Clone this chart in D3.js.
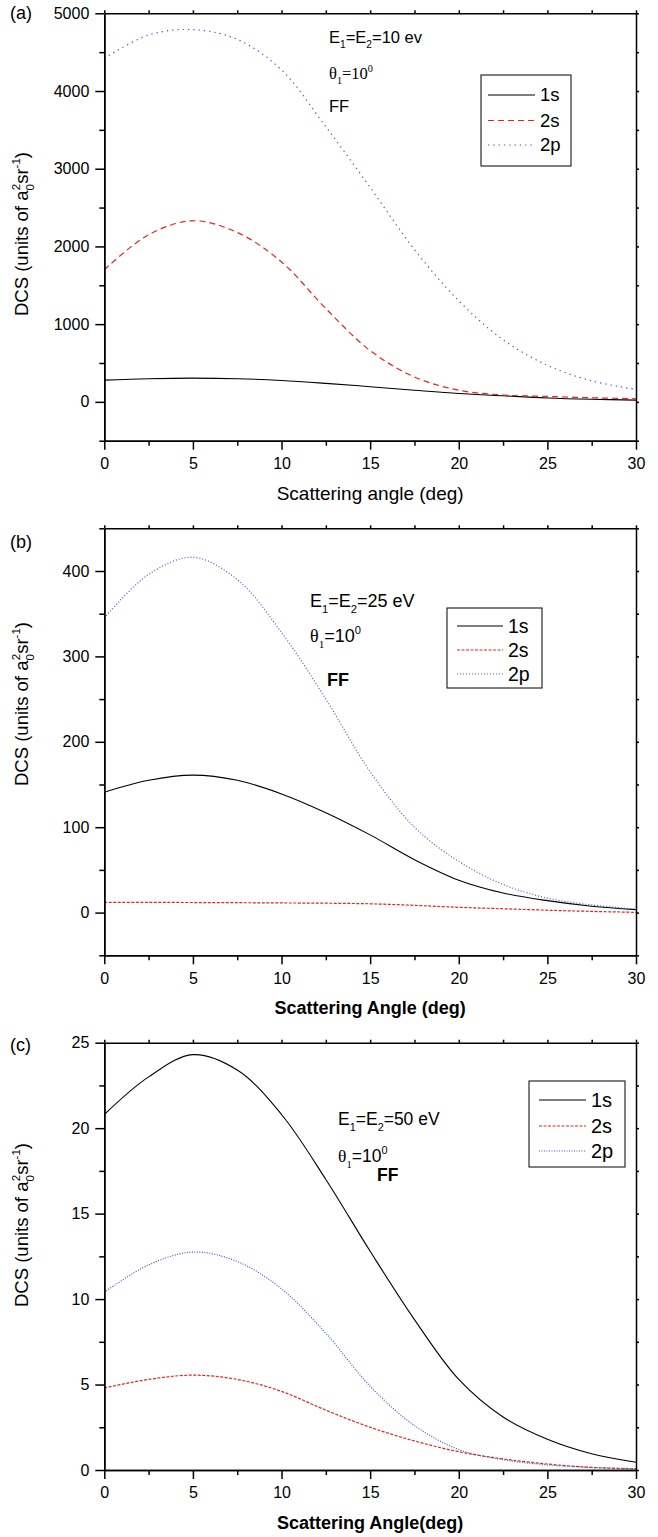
<!DOCTYPE html>
<html>
<head>
<meta charset="utf-8">
<script src="https://cdn.jsdelivr.net/npm/d3@7"></script>
<style>
  body { margin: 0; background: #fff; }
  svg { display: block; }
  text { font-family: "Liberation Sans", Arial, sans-serif; fill: #000; }
</style>
</head>
<body>
<svg id="chart" width="658" height="1537"></svg>
<script>
// Scattering angle grid (deg)
const angleDeg = [0, 2.5, 5, 7.5, 10, 12.5, 15, 17.5, 20, 22.5, 25, 27.5, 30];

// DCS for E1=E2=10 eV
const dcs10_1s = [280, 298, 305, 298, 275, 238, 195, 150, 108, 78, 50, 33, 22];
const dcs10_2s = [1700, 2150, 2330, 2180, 1800, 1200, 660, 320, 150, 88, 70, 52, 40];
const dcs10_2p = [4420, 4720, 4790, 4665, 4270, 3540, 2760, 1960, 1300, 800, 470, 270, 160];

// DCS for E1=E2=25 eV
const dcs25_1s = [141, 155, 161, 155, 139, 117, 91, 62, 38, 23, 14, 7.5, 3.5];
const dcs25_2s = [12, 12, 11.8, 11.6, 11.3, 11, 10.3, 8.5, 6.2, 4.5, 2.8, 1.4, 0.3];
const dcs25_2p = [345, 396, 416, 390, 328, 250, 165, 100, 60, 33, 17, 9, 4];

// DCS for E1=E2=50 eV
const dcs50_1s = [20.8, 23.0, 24.3, 23.4, 20.8, 17.0, 12.8, 8.8, 5.3, 3.1, 1.8, 0.95, 0.45];
const dcs50_2s = [4.8, 5.3, 5.55, 5.3, 4.6, 3.5, 2.5, 1.7, 1.07, 0.65, 0.35, 0.15, 0.06];
const dcs50_2p = [10.4, 12.0, 12.75, 12.2, 10.6, 8.0, 4.9, 2.6, 1.2, 0.6, 0.3, 0.15, 0.08];

const seriesNames = ["1s", "2s", "2p"];
const xMajorTicks = [0, 5, 10, 15, 20, 25, 30];
const xMinorTicks = [2.5, 7.5, 12.5, 17.5, 22.5, 27.5];
const yTicks10 = [0, 1000, 2000, 3000, 4000, 5000];
const yTicks25 = [0, 100, 200, 300, 400];
const yTicks50 = [0, 5, 10, 15, 20, 25];

const RED = "#ee2020", BLUE = "#3a5bd0";
const svg = d3.select("#chart");

// Rich text helper: parts with optional sub / sup, dx to stack over previous glyph
function richText(sel, parts, fs) {
  let shift = 0;
  parts.forEach(p => {
    const ts = sel.append("tspan").text(p.t);
    let target = 0, size = fs;
    if (p.sub) { target = fs * 0.32; size = fs * 0.62; }
    if (p.sup) { target = -fs * 0.45; size = fs * 0.62; }
    ts.attr("dy", target - shift).style("font-size", size + "px");
    if (p.dx) ts.attr("dx", p.dx);
    if (p.font) ts.style("font-family", p.font);
    shift = target;
  });
}

const panels = [
  {
    label: "(a)", labelY: 19,
    top: 13.3, bottom: 440.7, yDomain: [-500, 5000],
    yMajor: yTicks10, yMinor: [-500, 500, 1500, 2500, 3500, 4500],
    data: [dcs10_1s, dcs10_2s, dcs10_2p],
    dash: [null, "6,4", "1.3,4"],
    xTitle: "Scattering angle (deg)", xTitleBold: false, xTitleY: 500, xTitleSize: 19,
    yTitleEnd: 152,
    ann: { x: 329, y: [43, 79, 112], size: 16.5, serifTheta: true, ev: "10 ev", ffX: 329, ffBold: false },
    legend: { x0: 481, x1: 571, y0: 75, y1: 166, rows: [95, 120.5, 145], lx0: 488, lx1: 535, tx: 540, size: 18.5 }
  },
  {
    label: "(b)", labelY: 548,
    top: 528.3, bottom: 955.3, yDomain: [-50, 450],
    yMajor: yTicks25, yMinor: [-50, 50, 150, 250, 350, 450],
    data: [dcs25_1s, dcs25_2s, dcs25_2p],
    dash: [null, "3,1.5", "1,2"],
    xTitle: "Scattering Angle (deg)", xTitleBold: true, xTitleY: 1014, xTitleSize: 18,
    yTitleEnd: 622,
    ann: { x: 310, y: [607, 642, 686], size: 18, serifTheta: false, ev: "25 eV", ffX: 327, ffBold: true },
    legend: { x0: 447, x1: 542, y0: 608, y1: 688, rows: [626, 650, 674], lx0: 457, lx1: 503, tx: 508, size: 19.5 }
  },
  {
    label: "(c)", labelY: 1051,
    top: 1042.7, bottom: 1470, yDomain: [0, 25],
    yMajor: yTicks50, yMinor: [2.5, 7.5, 12.5, 17.5, 22.5],
    data: [dcs50_1s, dcs50_2s, dcs50_2p],
    dash: [null, "3,1.5", "1,1.5"],
    xTitle: "Scattering Angle(deg)", xTitleBold: true, xTitleY: 1529, xTitleSize: 18,
    yTitleEnd: 1143,
    ann: { x: 338, y: [1125, 1162, 1181], size: 17.5, serifTheta: false, ev: "50 eV", ffX: 377, ffBold: true },
    legend: { x0: 529, x1: 625, y0: 1081, y1: 1167, rows: [1100, 1126, 1151], lx0: 539, lx1: 586, tx: 591, size: 20 }
  }
];

const LEFT = 104.3, RIGHT = 636;

panels.forEach(p => {
  const g = svg.append("g");
  const x = d3.scaleLinear().domain([0, 30]).range([LEFT, RIGHT]);
  const y = d3.scaleLinear().domain(p.yDomain).range([p.bottom, p.top]);

  // curves
  const line = d3.line().x(d => x(d[0])).y(d => y(d[1])).curve(d3.curveCatmullRom.alpha(0.5));
  const colors = ["#000", RED, BLUE];
  p.data.forEach((vals, i) => {
    g.append("path")
      .datum(angleDeg.map((a, k) => [a, vals[k]]))
      .attr("d", line)
      .attr("fill", "none")
      .attr("stroke", colors[i])
      .attr("stroke-width", i === 0 ? 1.1 : 1.2)
      .attr("stroke-dasharray", p.dash[i]);
  });

  const styleAxis = a => {
    a.selectAll("path, line").attr("stroke", "#000").attr("stroke-width", 1.5);
    a.selectAll("text").style("font-size", "16px").attr("fill", "#000");
  };

  // bottom axis
  g.append("g").attr("transform", `translate(0,${p.bottom})`)
    .call(d3.axisBottom(x).tickValues(xMajorTicks).tickSize(9).tickSizeOuter(0).tickPadding(8).tickFormat(d3.format("d")))
    .call(styleAxis);
  g.append("g").attr("transform", `translate(0,${p.bottom})`)
    .call(d3.axisBottom(x).tickValues(xMinorTicks).tickSize(5).tickSizeOuter(0).tickFormat(""))
    .call(styleAxis);
  // top axis
  g.append("g").attr("transform", `translate(0,${p.top})`)
    .call(d3.axisTop(x).tickValues(xMajorTicks.concat(xMinorTicks)).tickSize(3).tickSizeOuter(0).tickFormat(""))
    .call(styleAxis);
  // left axis
  g.append("g").attr("transform", `translate(${LEFT},0)`)
    .call(d3.axisLeft(y).tickValues(p.yMajor).tickSize(9).tickSizeOuter(0).tickPadding(6).tickFormat(d3.format("d")))
    .call(styleAxis);
  g.append("g").attr("transform", `translate(${LEFT},0)`)
    .call(d3.axisLeft(y).tickValues(p.yMinor).tickSize(5).tickSizeOuter(0).tickFormat(""))
    .call(styleAxis);
  // right axis
  g.append("g").attr("transform", `translate(${RIGHT},0)`)
    .call(d3.axisRight(y).tickValues(p.yMajor.concat(p.yMinor)).tickSize(3).tickSizeOuter(0).tickFormat(""))
    .call(styleAxis);

  // panel label
  g.append("text").attr("x", 10).attr("y", p.labelY).style("font-size", "18px").text(p.label);

  // x title
  g.append("text").attr("x", (LEFT + RIGHT) / 2).attr("y", p.xTitleY)
    .attr("text-anchor", "middle")
    .style("font-size", p.xTitleSize + "px")
    .style("font-weight", p.xTitleBold ? "bold" : "normal")
    .text(p.xTitle);

  // y title
  const yt = g.append("text")
    .attr("transform", `translate(28,${p.yTitleEnd}) rotate(-90)`)
    .attr("text-anchor", "end")
    .style("font-size", "18.5px");
  richText(yt, [
    { t: "DCS (units of a" },
    { t: "0", sub: true },
    { t: "2", sup: true, dx: -6 },
    { t: "sr" },
    { t: "-1", sup: true },
    { t: ")" }
  ], 18.5);

  // annotation
  const A = p.ann, fs = A.size;
  const t1 = g.append("text").attr("x", A.x).attr("y", A.y[0]).style("font-size", fs + "px");
  richText(t1, [{ t: "E" }, { t: "1", sub: true }, { t: "=E" }, { t: "2", sub: true }, { t: "=" + A.ev }], fs);
  const t2 = g.append("text").attr("x", A.x).attr("y", A.y[1]).style("font-size", fs + "px");
  const serif = "'Liberation Serif', 'Times New Roman', serif";
  richText(t2, [
    { t: "θ", font: serif },
    { t: "1", sub: true, font: serif },
    { t: "=10", font: A.serifTheta ? serif : null },
    { t: "0", sup: true, font: A.serifTheta ? serif : null }
  ], fs);
  g.append("text").attr("x", A.ffX).attr("y", A.y[2])
    .style("font-size", fs + "px").style("font-weight", A.ffBold ? "bold" : "normal").text("FF");

  // legend
  const L = p.legend;
  g.append("rect").attr("x", L.x0).attr("y", L.y0).attr("width", L.x1 - L.x0).attr("height", L.y1 - L.y0)
    .attr("fill", "#fff").attr("stroke", "#000").attr("stroke-width", 1);
  seriesNames.forEach((name, i) => {
    g.append("line").attr("x1", L.lx0).attr("x2", L.lx1).attr("y1", L.rows[i]).attr("y2", L.rows[i])
      .attr("stroke", colors[i]).attr("stroke-width", 1.2).attr("stroke-dasharray", p.dash[i]);
    g.append("text").attr("x", L.tx).attr("y", L.rows[i]).attr("dy", "0.35em")
      .style("font-size", L.size + "px").text(name);
  });
});
</script>
</body>
</html>
